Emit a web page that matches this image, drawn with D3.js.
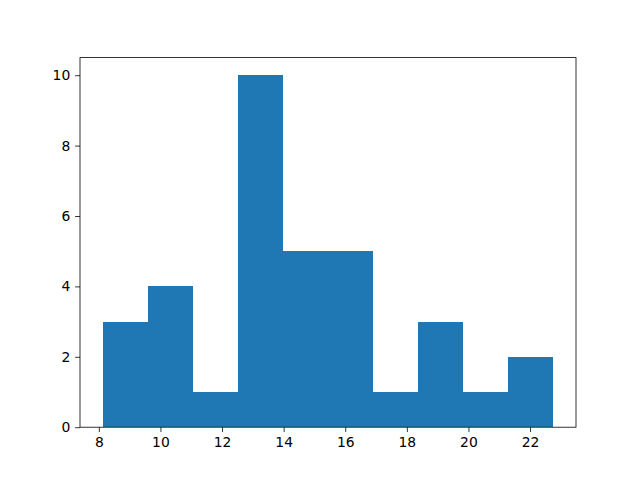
<!DOCTYPE html>
<html>
<head>
<meta charset="utf-8">
<script src="https://cdn.jsdelivr.net/npm/d3@7"></script>
<style>
html,body{margin:0;padding:0;background:#fff;}
svg{display:block;}
text{font-family:"DejaVu Sans",sans-serif;}
</style>
</head>
<body>
<svg id="chart" width="640" height="480"></svg>
<script>
const binEdges = [8.12, 9.584, 11.048, 12.512, 13.976, 15.44, 16.904, 18.368, 19.832, 21.296, 22.76];
const counts = [3, 4, 1, 10, 5, 5, 1, 3, 1, 2];
const xTicks = [8, 10, 12, 14, 16, 18, 20, 22];
const yTicks = [0, 2, 4, 6, 8, 10];

const W = 640, H = 480;
const mLeft = 80, mRight = 576, mTop = 57.6, mBottom = 427.2;
const svg = d3.select("#chart");

const lo = binEdges[0], hi = binEdges[binEdges.length - 1];
const pad = (hi - lo) * 0.05;
const x = d3.scaleLinear().domain([lo - pad, hi + pad]).range([mLeft, mRight]);
const ymax = d3.max(counts) * 1.05;
const y = d3.scaleLinear().domain([0, ymax]).range([mBottom, mTop]);

const bins = counts.map((c, i) => ({x0: binEdges[i], x1: binEdges[i + 1], c}));
svg.append("g").selectAll("rect").data(bins).join("rect")
  .attr("x", d => x(d.x0))
  .attr("width", d => x(d.x1) - x(d.x0))
  .attr("y", d => y(d.c))
  .attr("height", d => y(0) - y(d.c))
  .attr("fill", "#1f77b4")
  .attr("shape-rendering", "crispEdges");

const tickLen = 4.86, tickPad = 4.86;
const xAxis = svg.append("g").attr("transform", `translate(0,${mBottom})`)
  .call(d3.axisBottom(x).tickValues(xTicks).tickFormat(d3.format("d")).tickSize(tickLen).tickPadding(tickPad).tickSizeOuter(0));
const yAxis = svg.append("g").attr("transform", `translate(${mLeft},0)`)
  .call(d3.axisLeft(y).tickValues(yTicks).tickFormat(d3.format("d")).tickSize(tickLen).tickPadding(tickPad).tickSizeOuter(0));
[xAxis, yAxis].forEach(g => {
  g.select(".domain").remove();
  g.selectAll("line").attr("stroke", "#000").attr("stroke-width", 0.8);
  g.selectAll("text").attr("font-size", "13.9px").attr("fill", "#000").attr("font-family", "DejaVu Sans");
});

svg.append("rect").attr("x", mLeft).attr("y", mTop).attr("width", mRight - mLeft).attr("height", mBottom - mTop)
  .attr("fill", "none").attr("stroke", "#000").attr("stroke-width", 0.8);
</script>
</body>
</html>
